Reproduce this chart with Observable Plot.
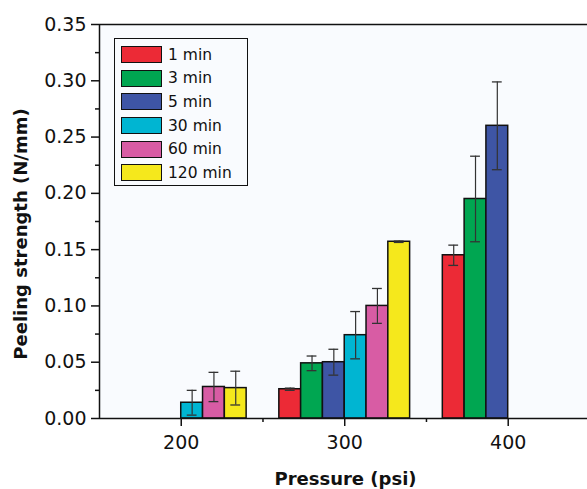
<!DOCTYPE html>
<html>
<head>
<meta charset="utf-8">
<script src="https://cdn.jsdelivr.net/npm/d3@7"></script>
<script src="https://cdn.jsdelivr.net/npm/@observablehq/plot@0.6"></script>
<style>
  html, body { margin: 0; padding: 0; background: #ffffff; }
  #wrap { position: relative; width: 587px; height: 489px; overflow: hidden; }
  #legend {
    position: absolute; left: 114px; top: 38px; width: 126px; height: 142px;
    border: 1.5px solid #111; background: #f9fbfe;
    font-family: "DejaVu Sans", sans-serif; font-size: 15.5px; color: #111;
    padding: 4px 0 0 6px; box-sizing: content-box;
  }
  .row { display: flex; align-items: center; height: 23.6px; }
  .sw { width: 39px; height: 15px; border: 1.5px solid #111; margin-right: 6px; }
</style>
</head>
<body>
<div id="wrap"></div>
<script>
const pressures = [200, 300, 400];
const series = ["1 min", "3 min", "5 min", "30 min", "60 min", "120 min"];
const colors = ["#ec2a36", "#00a651", "#3e55a5", "#00b5d2", "#d85ca4", "#f5e81c"];
// mean peeling strength per series at [200, 300, 400] psi (null = no bar)
const m1 = [null, 0.026, 0.145];
const m3 = [null, 0.049, 0.195];
const m5 = [null, 0.050, 0.260];
const m30 = [0.014, 0.074, null];
const m60 = [0.028, 0.100, null];
const m120 = [0.027, 0.157, null];
// error (half range)
const e1 = [null, 0.001, 0.009];
const e3 = [null, 0.0065, 0.038];
const e5 = [null, 0.0115, 0.039];
const e30 = [0.011, 0.021, null];
const e60 = [0.013, 0.0155, null];
const e120 = [0.015, 0.0006, null];
const yTicks = [0, 0.05, 0.10, 0.15, 0.20, 0.25, 0.30, 0.35];
const yMinor = [0.025, 0.075, 0.125, 0.175, 0.225, 0.275, 0.325];
const xTicks = [200, 300, 400];
const xMinor = [250, 350];

const means = [m1, m3, m5, m30, m60, m120];
const errs = [e1, e3, e5, e30, e60, e120];
const bw = 40 / 3; // bar width in psi
const rows = [];
series.forEach((s, i) => {
  pressures.forEach((p, j) => {
    const v = means[i][j];
    if (v == null) return;
    rows.push({
      series: s, color: colors[i], pressure: p, mean: v, err: errs[i][j],
      x1: p + (i - 3) * bw, x2: p + (i - 2) * bw, xc: p + (i - 2.5) * bw
    });
  });
});

const chart = Plot.plot({
  width: 587, height: 489,
  marginLeft: 99, marginRight: 0, marginTop: 24, marginBottom: 71,
  x: { domain: [150, 448.5] },
  y: { domain: [0, 0.35] },
  style: { fontFamily: "DejaVu Sans, sans-serif", background: "#ffffff", color: "#111" },
  marks: [
    Plot.frame({ fill: "#f9fbfe", stroke: null }),
    Plot.rectY(rows, { x1: "x1", x2: "x2", y: "mean", fill: "color", stroke: "#111", strokeWidth: 1.5 }),
    Plot.ruleX(rows, { x: "xc", y1: d => d.mean - d.err, y2: d => d.mean + d.err, stroke: "#333", strokeWidth: 1.2 }),
    Plot.ruleY(rows, { y: d => d.mean + d.err, x1: d => d.xc - 3, x2: d => d.xc + 3, stroke: "#333", strokeWidth: 1.3 }),
    Plot.ruleY(rows, { y: d => d.mean - d.err, x1: d => d.xc - 3, x2: d => d.xc + 3, stroke: "#333", strokeWidth: 1.3 }),
    Plot.ruleY([0], { stroke: "#111", strokeWidth: 1.5 }),
    Plot.ruleY([0.35], { stroke: "#111", strokeWidth: 1.5 }),
    Plot.ruleX([150], { stroke: "#111", strokeWidth: 1.5 }),
    Plot.axisY({ ticks: yTicks, tickSize: 8, tickPadding: 5, tickFormat: d3.format(".2f"), fontSize: 19, label: null, strokeWidth: 1.5 }),
    Plot.axisY({ ticks: yMinor, tickSize: 4, tickFormat: () => "", label: null, strokeWidth: 1.5 }),
    Plot.axisX({ ticks: xTicks, tickSize: 8, tickPadding: 9, tickFormat: d => String(d), fontSize: 19, label: null, strokeWidth: 1.5 }),
    Plot.axisX({ ticks: xMinor, tickSize: 4, tickFormat: () => "", label: null, strokeWidth: 1.5 }),
    Plot.text(["Pressure (psi)"], { frameAnchor: "bottom", textAnchor: "middle", lineAnchor: "bottom", dy: 66, dx: 2, fontSize: 18, fontWeight: "bold", fill: "#111" }),
    Plot.text(["Peeling strength (N/mm)"], { frameAnchor: "left", textAnchor: "middle", lineAnchor: "middle", dx: -78, dy: 12.5, rotate: -90, fontSize: 18, fontWeight: "bold", fill: "#111" })
  ]
});
const wrap = document.getElementById("wrap");
wrap.appendChild(chart);

const legend = document.createElement("div");
legend.id = "legend";
series.forEach((s, i) => {
  const r = document.createElement("div");
  r.className = "row";
  const sw = document.createElement("div");
  sw.className = "sw";
  sw.style.background = colors[i];
  const t = document.createElement("span");
  t.textContent = s;
  r.appendChild(sw); r.appendChild(t);
  legend.appendChild(r);
});
wrap.appendChild(legend);
</script>
</body>
</html>
